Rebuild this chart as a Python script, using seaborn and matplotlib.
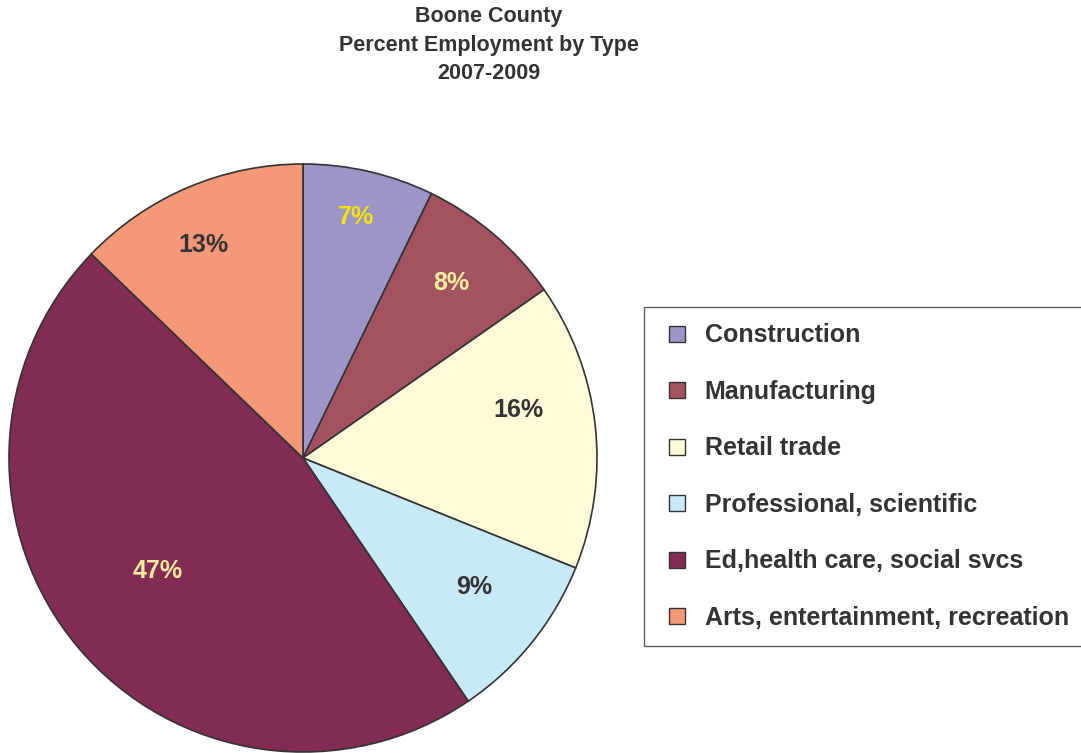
import matplotlib
matplotlib.use("Agg")
import matplotlib.pyplot as plt
import seaborn as sns
from matplotlib.patches import Patch, Rectangle
from matplotlib.legend_handler import HandlerPatch
import numpy as np

# data
categories = ["Construction", "Manufacturing", "Retail trade", "Professional, scientific",
              "Ed,health care, social svcs", "Arts, entertainment, recreation"]
shares = [7.2, 8.1, 15.8, 9.4, 46.7, 12.8]
slice_colors = ["#9b95c8", "#a55260", "#fffad8", "#c8e9f8", "#822b53", "#f49878"]
pct_colors = ["#f5e400", "#fff0a0", "#333333", "#333333", "#fde9a0", "#333333"]
# label placement tweaks (radius fraction, angle shift in degrees)
pct_radius = [0.84, 0.78, 0.75, 0.73, 0.625, 0.80]
pct_shift = [0.6, 0.2, 6.0, 1.8, -2.2, 2.0]

sns.set_theme(style="white")
plt.rcParams["font.family"] = ["Liberation Sans", "DejaVu Sans"]

fig = plt.figure(figsize=(10.81, 7.53), dpi=100)
ax = fig.add_axes([9 / 1081, 1 / 753, 588 / 1081, 588 / 753])

wedges, _ = ax.pie(shares, colors=slice_colors, startangle=90, counterclock=False,
                   radius=1, wedgeprops=dict(edgecolor="#333333", linewidth=1.2))
ax.set_xlim(-1, 1)
ax.set_ylim(-1, 1)
ax.set_aspect("auto")

for w, val, col, r, s in zip(wedges, shares, pct_colors, pct_radius, pct_shift):
    mid = np.deg2rad((w.theta1 + w.theta2) / 2 + s)
    ax.text(r * np.cos(mid), r * np.sin(mid), f"{val:.0f}%", ha="center", va="center",
            fontsize=18, fontweight="bold", color=col)

fig.text(489 / 1081, 1 - 6 / 753, "Boone County\nPercent Employment by Type\n2007-2009",
         ha="center", va="top", fontsize=15.5, fontweight="bold", color="#333333",
         linespacing=1.48)


def square(legend, orig_handle, xdescent, ydescent, width, height, fontsize):
    size = 0.64 * fontsize
    return Rectangle((-xdescent + width - size, -ydescent + (height - size) / 2), size, size)


handles = [Patch(facecolor=c, edgecolor="#333333", linewidth=1) for c in slice_colors]
leg = fig.legend(handles, categories, loc="upper left",
                 bbox_to_anchor=(644 / 1081, 1 - 307 / 753), borderaxespad=0,
                 fontsize=18, frameon=True, fancybox=False, edgecolor="#333333",
                 handlelength=0.98, handleheight=0.7, handletextpad=0.8,
                 borderpad=0.65, labelspacing=1.3,
                 handler_map={Patch: HandlerPatch(patch_func=square)})
leg.get_frame().set_linewidth(1)
for t in leg.get_texts():
    t.set_fontweight("bold")
    t.set_color("#333333")

fig.savefig("out.png", dpi=100)
